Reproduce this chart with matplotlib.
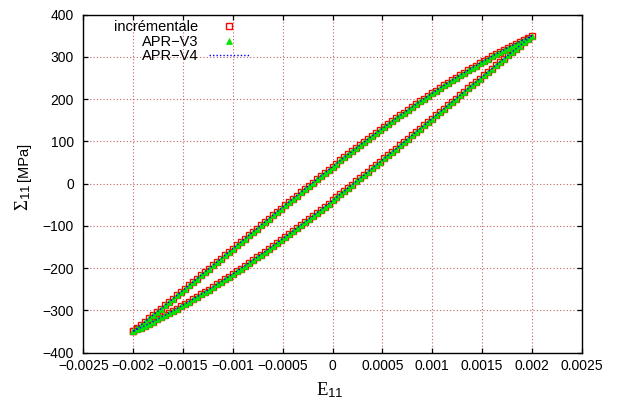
import numpy as np
import matplotlib
matplotlib.use("Agg")
import matplotlib.pyplot as plt
from matplotlib.ticker import FixedLocator, FixedFormatter

plt.rcParams['font.family'] = ['Liberation Sans', 'DejaVu Sans']
plt.rcParams['mathtext.fontset'] = 'custom'
plt.rcParams['mathtext.rm'] = 'Liberation Serif'
plt.rcParams['mathtext.it'] = 'Liberation Serif:italic'
plt.rcParams['mathtext.bf'] = 'Liberation Serif:bold'
plt.rcParams['mathtext.sf'] = 'Liberation Sans'

# ---------------- data ----------------
# strain grid of the cycle (increments of 4e-5)
strain_up = np.linspace(-0.002, 0.002, 101)     # loading branch E11
strain_down = np.linspace(0.002, -0.002, 101)   # unloading branch E11

# Sigma_11 [MPa] on the loading (upper) branch
stress_up = [
    -350.0, -342.3, -334.7, -327.0, -319.2, -311.5, -303.7, -296.0, -288.2, -280.3,
    -272.5, -264.7, -256.8, -248.9, -241.1, -233.2, -225.3, -217.4, -209.5, -201.5,
    -193.6, -185.7, -177.8, -169.8, -161.9, -154.0, -146.1, -138.2, -130.3, -122.4,
    -114.5, -106.6, -98.7, -90.8, -83.0, -75.2, -67.3, -59.5, -51.7, -44.0,
    -36.2, -28.5, -20.8, -13.1, -5.4, 2.2, 9.8, 17.4, 25.0, 32.5,
    40.0, 47.5, 54.9, 62.3, 69.7, 77.0, 84.3, 91.5, 98.7, 105.9,
    113.0, 120.1, 127.1, 134.1, 141.1, 148.0, 154.8, 161.6, 168.3, 175.0,
    181.7, 188.2, 194.8, 201.2, 207.6, 214.0, 220.3, 226.5, 232.7, 238.8,
    244.8, 250.8, 256.7, 262.5, 268.3, 274.0, 279.6, 285.1, 290.6, 296.0,
    301.3, 306.6, 311.7, 316.8, 321.8, 326.7, 331.5, 336.3, 340.9, 345.5,
    350.0]

# Sigma_11 [MPa] on the unloading (lower) branch
stress_down = [
    350.0, 342.3, 334.7, 327.0, 319.2, 311.5, 303.7, 296.0, 288.2, 280.3,
    272.5, 264.7, 256.8, 248.9, 241.1, 233.2, 225.3, 217.4, 209.5, 201.5,
    193.6, 185.7, 177.8, 169.8, 161.9, 154.0, 146.1, 138.2, 130.3, 122.4,
    114.5, 106.6, 98.7, 90.8, 83.0, 75.2, 67.3, 59.5, 51.7, 44.0,
    36.2, 28.5, 20.8, 13.1, 5.4, -2.2, -9.8, -17.4, -25.0, -32.5,
    -40.0, -47.5, -54.9, -62.3, -69.7, -77.0, -84.3, -91.5, -98.7, -105.9,
    -113.0, -120.1, -127.1, -134.1, -141.1, -148.0, -154.8, -161.6, -168.3, -175.0,
    -181.7, -188.2, -194.8, -201.2, -207.6, -214.0, -220.3, -226.5, -232.7, -238.8,
    -244.8, -250.8, -256.7, -262.5, -268.3, -274.0, -279.6, -285.1, -290.6, -296.0,
    -301.3, -306.6, -311.7, -316.8, -321.8, -326.7, -331.5, -336.3, -340.9, -345.5,
    -350.0]

series_labels = ['incrémentale', 'APR\u2212V3', 'APR\u2212V4']

x_ticks = [-0.0025, -0.002, -0.0015, -0.001, -0.0005, 0, 0.0005, 0.001, 0.0015, 0.002, 0.0025]
x_tick_labels = ['\u22120.0025', '\u22120.002', '\u22120.0015', '\u22120.001', '\u22120.0005',
                 '0', '0.0005', '0.001', '0.0015', '0.002', '0.0025']
y_ticks = [-400, -300, -200, -100, 0, 100, 200, 300, 400]
y_tick_labels = ['\u2212400', '\u2212300', '\u2212200', '\u2212100', '0', '100', '200', '300', '400']

# full cycle
E = np.concatenate([strain_up, strain_down[1:]])
S = np.concatenate([stress_up, stress_down[1:]])

# ---------------- figure ----------------
W, H = 617, 405
fig = plt.figure(figsize=(W / 100, H / 100), dpi=100)
L, R, T, B = 83.3, 581.7, 14.7, 352.5
ax = fig.add_axes([L / W, 1 - B / H, (R - L) / W, (B - T) / H])

ax.plot(E, S, linestyle='none', marker='s', ms=4.8, mfc='none', mec='#ff0000',
        mew=1.0, label=series_labels[0], zorder=3)
ax.plot(E, S, linestyle='none', marker='^', ms=4.2, mfc='#00e600', mec='#00e600',
        mew=0.5, label=series_labels[1], zorder=4)
ax.plot(E, S, linestyle=(0, (1, 1.5)), color='#0000ff', lw=1.0,
        label=series_labels[2], zorder=5)

ax.set_xlim(-0.0025, 0.0025)
ax.set_ylim(-400, 400)
ax.xaxis.set_major_locator(FixedLocator(x_ticks))
ax.xaxis.set_major_formatter(FixedFormatter(x_tick_labels))
ax.yaxis.set_major_locator(FixedLocator(y_ticks))
ax.yaxis.set_major_formatter(FixedFormatter(y_tick_labels))

ax.tick_params(axis='both', which='major', direction='in', length=3.3, width=0.9,
               top=True, right=True, labelsize=10, colors='black')
ax.tick_params(axis='x', pad=5)
ax.tick_params(axis='y', pad=6.8)
for sp in ax.spines.values():
    sp.set_linewidth(1.0)
    sp.set_color('black')

ax.set_axisbelow(True)
ax.grid(True, color='#b84a4a', linestyle=(0, (1, 2)), linewidth=0.8, alpha=0.85)

leg = ax.legend(loc='upper left', bbox_to_anchor=(114.3 / W, 1 - 20 / H),
                bbox_transform=fig.transFigure, frameon=False, markerfirst=False,
                fontsize=10.5, handlelength=2.8, handletextpad=0.7,
                labelspacing=0.05, borderpad=0, borderaxespad=0, numpoints=1)
# right-justify the legend rows (gnuplot style)
for col in leg._legend_handle_box.get_children():
    col.align = 'right'

# axis labels (mixed sizes like the original)
fig.text(330 / W, 1 - 395 / H, r'$\mathrm{E}_{\mathsf{11}}$', ha='center',
         va='baseline', fontsize=13.5)

xb = 28.5
t1 = fig.text(xb / W, 1 - 211 / H, r'$\Sigma_{\mathsf{11}}$', rotation=90,
              rotation_mode='anchor', ha='left', va='baseline', fontsize=13.5)
fig.canvas.draw()
bb = t1.get_window_extent(fig.canvas.get_renderer())
fig.text(xb / W, (H - 211 + bb.height + 3) / H, '[MPa]', rotation=90,
         rotation_mode='anchor', ha='left', va='baseline', fontsize=10.5)

fig.savefig('out.png', dpi=100)
